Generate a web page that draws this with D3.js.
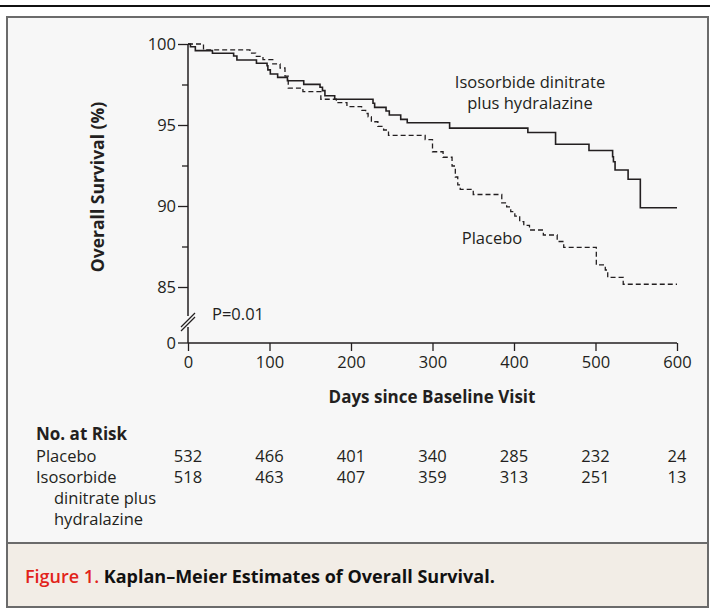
<!DOCTYPE html>
<html><head><meta charset="utf-8">
<script src="https://cdn.jsdelivr.net/npm/d3@7"></script>
<style>
html,body{margin:0;padding:0;background:#fff;}
svg{display:block;font-family:"Open Sans","Noto Sans",sans-serif;}
</style></head>
<body>
<svg id="c" width="710" height="612"></svg>
<script>
// ---- data ----
const isoDays = [0,3,9,30,56,60,84,97,98,101,110,122,142,162,165,168,180,227,229,243,247,261,269,321,417,451,492,521,522,524,540,555,600];
const isoSurv = [100,99.83,99.59,99.43,99.26,99.01,98.81,98.66,98.40,98.15,97.94,97.73,97.51,97.33,97.12,96.81,96.59,96.34,96.09,95.86,95.62,95.35,95.14,94.81,94.54,93.81,93.43,93.04,92.73,92.22,91.65,89.89,89.89];
const plaDays = [0,19,76,83,92,104,113,119,123,141,163,182,195,213,218,221,225,233,240,246,291,300,313,324,328,331,334,350,385,391,396,401,407,412,419,436,453,461,501,512,515,534,600];
const plaSurv = [100,99.64,99.44,99.24,99.03,98.77,98.52,98.02,97.28,97.06,96.59,96.38,96.14,95.90,95.71,95.51,95.20,94.91,94.69,94.36,94.10,93.35,93.01,92.47,91.79,91.30,91.03,90.71,90.19,89.94,89.65,89.38,89.04,88.80,88.52,88.21,87.81,87.45,86.36,86.05,85.59,85.17,85.17];
const xTicks = [0,100,200,300,400,500,600];
const yTicks = [85,90,95,100];
const yMinorTicks = [87.5,92.5,97.5];
const riskPlacebo = [532,466,401,340,285,232,24];
const riskIso = [518,463,407,359,313,251,13];

const svg = d3.select("#c");
const ink = "#231f20";
const FS = 16.5;

// frame
svg.append("rect").attr("x",0).attr("y",0).attr("width",710).attr("height",612).attr("fill","#fff");
svg.append("line").attr("x1",0).attr("x2",710).attr("y1",6).attr("y2",6).attr("stroke","#111").attr("stroke-width",2);
svg.append("rect").attr("x",7).attr("y",17).attr("width",701).attr("height",590)
  .attr("fill","#f7f7f7").attr("stroke","#6b6b6b").attr("stroke-width",2);
svg.append("rect").attr("x",7).attr("y",543).attr("width",701).attr("height",64)
  .attr("fill","#f2ede6").attr("stroke","#6b6b6b").attr("stroke-width",2);

const x = d3.scaleLinear().domain([0,600]).range([188,677]);
const y = d3.scaleLinear().domain([85,100]).range([287,44]);
const yZeroPos = 343;

// y axis
const gy = svg.append("g").attr("transform","translate(188,0)");
gy.call(d3.axisLeft(y).tickValues(yTicks).tickSize(10).tickPadding(2).tickFormat(d3.format("d")));
gy.select(".domain").remove();
gy.selectAll("text").attr("font-size",FS).attr("fill",ink).attr("font-family","'Open Sans',sans-serif");
gy.selectAll("line").attr("stroke",ink).attr("stroke-width",1.3);
const gym = svg.append("g").attr("transform","translate(188,0)");
gym.call(d3.axisLeft(y).tickValues(yMinorTicks).tickSize(6).tickFormat(""));
gym.select(".domain").remove();
gym.selectAll("line").attr("stroke",ink).attr("stroke-width",1.3);
// zero tick
svg.append("line").attr("x1",178).attr("x2",188).attr("y1",yZeroPos).attr("y2",yZeroPos).attr("stroke",ink).attr("stroke-width",1.3);
svg.append("text").attr("x",176).attr("y",yZeroPos).attr("dy","0.35em").attr("text-anchor","end")
  .attr("font-size",FS).attr("fill",ink).text("0");
// axis line with break
svg.append("line").attr("x1",188).attr("x2",188).attr("y1",y(100)).attr("y2",316).attr("stroke",ink).attr("stroke-width",1.5);
svg.append("line").attr("x1",188).attr("x2",188).attr("y1",327).attr("y2",yZeroPos).attr("stroke",ink).attr("stroke-width",1.5);
[0,4].forEach(o=>{
  svg.append("line").attr("x1",181).attr("y1",327+o).attr("x2",195).attr("y2",313+o).attr("stroke",ink).attr("stroke-width",1.3);
});

// x axis
const gx = svg.append("g").attr("transform",`translate(0,${yZeroPos})`);
gx.call(d3.axisBottom(x).tickValues(xTicks).tickSize(8).tickPadding(5).tickFormat(d3.format("d")));
gx.select(".domain").attr("d",`M${x(0)},0H${x(600)}`).attr("stroke",ink).attr("stroke-width",1.5);
gx.selectAll("text").attr("font-size",FS).attr("fill",ink).attr("font-family","'Open Sans',sans-serif");
gx.selectAll("line").attr("stroke",ink).attr("stroke-width",1.3);

// curves
const line = d3.line().x(d=>x(d[0])).y(d=>y(d[1])).curve(d3.curveStepAfter);
svg.append("path").datum(plaDays.map((d,i)=>[d,plaSurv[i]])).attr("d",line)
  .attr("fill","none").attr("stroke",ink).attr("stroke-width",1.3).attr("stroke-dasharray","5,3");
svg.append("path").datum(isoDays.map((d,i)=>[d,isoSurv[i]])).attr("d",line)
  .attr("fill","none").attr("stroke",ink).attr("stroke-width",1.6);

// labels
const lab = (t,xx,yy,opt={})=>svg.append("text").attr("x",xx).attr("y",yy)
  .attr("font-size",opt.fs||FS).attr("font-weight",opt.fw||"normal").attr("fill",opt.fill||ink)
  .attr("text-anchor",opt.anchor||"start").attr("dy","0.35em").text(t);
lab("Isosorbide dinitrate",530,82,{anchor:"middle"});
lab("plus hydralazine",530,103,{anchor:"middle"});
lab("Placebo",492,238,{anchor:"middle"});
lab("P=0.01",212,314);
lab("Days since Baseline Visit",432,397,{anchor:"middle",fw:"bold",fs:17});
svg.append("text").attr("transform","translate(98,187) rotate(-90)").attr("text-anchor","middle")
  .attr("dy","0.35em").attr("font-size",17.5).attr("font-weight","bold").attr("fill",ink).text("Overall Survival (%)");

// at risk table
lab("No. at Risk",36,434,{fw:"bold",fs:17});
lab("Placebo",36,456);
lab("Isosorbide",36,477);
lab("dinitrate plus",54,498);
lab("hydralazine",54,519);
riskPlacebo.forEach((v,i)=>lab(String(v),x(xTicks[i]),456,{anchor:"middle"}));
riskIso.forEach((v,i)=>lab(String(v),x(xTicks[i]),477,{anchor:"middle"}));

// caption
const cap = svg.append("text").attr("x",25).attr("y",577).attr("dy","0.35em").attr("font-size",18).attr("font-weight","bold");
cap.append("tspan").attr("fill","#e2231a").attr("font-weight","600").text("Figure 1. ");
cap.append("tspan").attr("fill","#111").text("Kaplan–Meier Estimates of Overall Survival.");
</script>
</body></html>
